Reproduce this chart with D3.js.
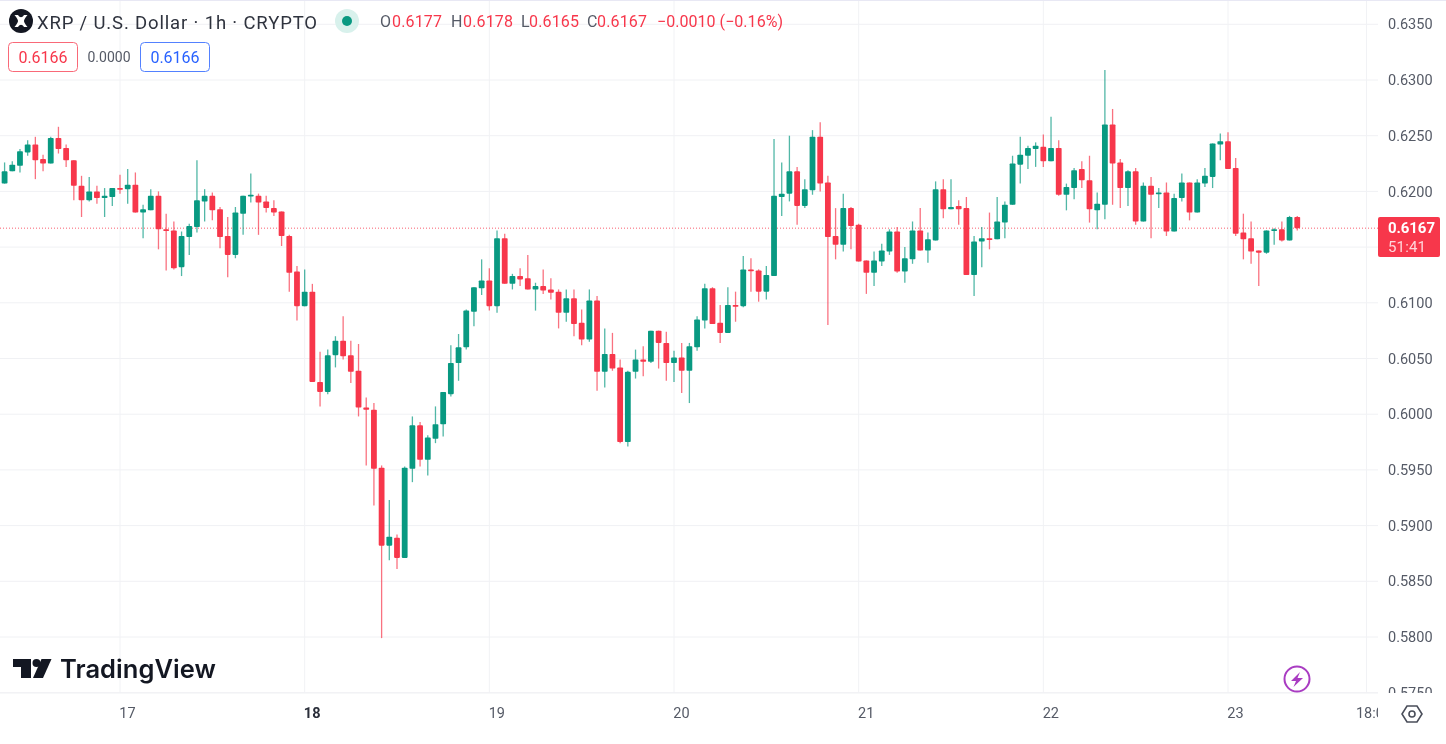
<!DOCTYPE html>
<html>
<head>
<meta charset="utf-8">
<style>
  html, body { margin: 0; padding: 0; background: #fff; overflow: hidden; }
  svg { display: block; font-family: Roboto, "Liberation Sans", sans-serif; filter: blur(0.5px); }
</style>
</head>
<body>
<svg id="chart"></svg>
<script src="https://cdn.jsdelivr.net/npm/d3@7/dist/d3.min.js"></script>
<script>
const width = 1446;
const height = 744;

// hourly candles, oldest first (first one is 16th 09:00)
const firstHour = -15;
const opens = [
  0.6207,0.6218,0.6223,0.6235,0.6242,0.6229,0.6225,0.6248,0.6239,0.6228,0.6205,0.6192,0.6200,0.6194,0.6195,
  0.6203,0.6202,0.6206,0.6181,0.6183,0.6196,0.6166,0.6165,0.6132,0.6159,0.6168,0.6191,0.6196,0.6184,0.6160,0.6143,0.6180,0.6196,0.6196,0.6191,0.6185,0.6182,0.6160,0.6128,0.6097,
  0.6110,0.6029,0.6020,0.6053,0.6066,0.6053,0.6039,0.6006,0.6004,0.5952,0.5882,0.5889,0.5871,0.5951,0.5990,0.5959,0.5978,0.5991,0.6018,0.6046,0.6060,0.6092,0.6113,0.6120,
  0.6097,0.6158,0.6117,0.6124,0.6122,0.6112,0.6115,0.6112,0.6110,0.6091,0.6104,0.6082,0.6067,0.6102,0.6038,0.6054,0.6042,0.5975,0.6038,0.6049,0.6047,0.6075,0.6064,0.6046,
  0.6051,0.6039,0.6060,0.6084,0.6113,0.6082,0.6073,0.6098,0.6097,0.6130,0.6129,0.6110,0.6124,0.6195,0.6198,0.6218,0.6187,0.6201,0.6249,0.6208,0.6160,0.6152,0.6185,0.6170,
  0.6138,0.6127,0.6137,0.6146,0.6164,0.6128,0.6139,0.6165,0.6147,0.6156,0.6202,0.6184,0.6187,0.6185,0.6125,0.6155,0.6158,0.6157,0.6172,0.6188,0.6224,0.6232,0.6238,
  0.6240,0.6227,0.6239,0.6197,0.6203,0.6220,0.6210,0.6183,0.6188,0.6260,0.6226,0.6203,0.6218,0.6173,0.6205,0.6198,0.6199,0.6164,0.6194,0.6208,0.6181,0.6207,0.6213,0.6242,
  0.6245,0.6221,0.6163,0.6158,0.6147,0.6145,0.6165,0.6166,0.6156,0.6177
];
const highs = [
  0.6226,0.6227,0.6238,0.6246,0.6249,0.6233,0.6249,0.6258,0.6242,0.6228,0.6214,0.6213,0.6205,0.6203,0.6203,
  0.6215,0.6220,0.6217,0.6188,0.6202,0.6200,0.6180,0.6173,0.6164,0.6171,0.6228,0.6202,0.6199,0.6186,0.6177,0.6186,0.6196,0.6216,0.6198,0.6196,0.6192,0.6182,0.6161,0.6133,0.6130,
  0.6117,0.6056,0.6058,0.6070,0.6088,0.6066,0.6063,0.6015,0.6010,0.5954,0.5923,0.5892,0.5953,0.5998,0.5993,0.5981,0.6007,0.6020,0.6062,0.6072,0.6094,0.6114,0.6139,0.6131,
  0.6165,0.6162,0.6126,0.6131,0.6143,0.6118,0.6130,0.6122,0.6112,0.6112,0.6112,0.6094,0.6112,0.6106,0.6077,0.6073,0.6049,0.6039,0.6058,0.6061,0.6075,0.6075,0.6074,0.6057,
  0.6064,0.6064,0.6088,0.6117,0.6114,0.6098,0.6114,0.6110,0.6142,0.6140,0.6130,0.6133,0.6247,0.6226,0.6250,0.6222,0.6211,0.6255,0.6262,0.6214,0.6185,0.6198,0.6186,0.6171,
  0.6138,0.6146,0.6153,0.6166,0.6168,0.6150,0.6173,0.6185,0.6163,0.6209,0.6211,0.6211,0.6192,0.6195,0.6160,0.6168,0.6181,0.6195,0.6191,0.6232,0.6249,0.6241,0.6244,
  0.6251,0.6267,0.6246,0.6207,0.6221,0.6227,0.6232,0.6199,0.6309,0.6274,0.6229,0.6219,0.6221,0.6208,0.6213,0.6203,0.6208,0.6198,0.6216,0.6208,0.6211,0.6221,0.6243,0.6252,
  0.6253,0.6230,0.6180,0.6173,0.6147,0.6165,0.6167,0.6173,0.6178,0.6178
];
const lows = [
  0.6207,0.6218,0.6217,0.6232,0.6211,0.6218,0.6225,0.6234,0.6222,0.6192,0.6177,0.6191,0.6189,0.6177,0.6187,
  0.6198,0.6189,0.6181,0.6158,0.6183,0.6148,0.6129,0.6130,0.6124,0.6143,0.6163,0.6173,0.6174,0.6149,0.6123,0.6140,0.6161,0.6190,0.6161,0.6181,0.6178,0.6151,0.6110,0.6084,0.6097,
  0.6029,0.6007,0.6018,0.6042,0.6049,0.6028,0.5998,0.5954,0.5918,0.5799,0.5869,0.5861,0.5871,0.5939,0.5953,0.5945,0.5974,0.5980,0.6016,0.6030,0.6058,0.6079,0.6107,0.6093,
  0.6091,0.6117,0.6112,0.6115,0.6112,0.6093,0.6108,0.6103,0.6077,0.6083,0.6070,0.6062,0.6065,0.6021,0.6024,0.6039,0.5974,0.5971,0.6032,0.6034,0.6046,0.6041,0.6030,0.6029,
  0.6019,0.6010,0.6057,0.6077,0.6081,0.6064,0.6073,0.6083,0.6096,0.6110,0.6101,0.6103,0.6124,0.6178,0.6191,0.6170,0.6185,0.6197,0.6200,0.6080,0.6139,0.6146,0.6148,0.6137,
  0.6108,0.6115,0.6133,0.6143,0.6127,0.6118,0.6135,0.6147,0.6136,0.6156,0.6176,0.6184,0.6170,0.6125,0.6106,0.6132,0.6148,0.6157,0.6158,0.6188,0.6207,0.6220,0.6222,
  0.6222,0.6227,0.6196,0.6183,0.6193,0.6203,0.6172,0.6166,0.6175,0.6188,0.6185,0.6187,0.6170,0.6173,0.6158,0.6185,0.6160,0.6164,0.6191,0.6174,0.6181,0.6204,0.6203,0.6228,
  0.6220,0.6160,0.6139,0.6135,0.6115,0.6144,0.6152,0.6155,0.6156,0.6165
];
const closes = [
  0.6218,0.6224,0.6236,0.6242,0.6228,0.6225,0.6248,0.6238,0.6228,0.6205,0.6192,0.6200,0.6194,0.6196,0.6203,
  0.6202,0.6206,0.6181,0.6184,0.6196,0.6166,0.6165,0.6131,0.6160,0.6169,0.6192,0.6196,0.6183,0.6159,0.6143,0.6181,0.6196,0.6197,0.6190,0.6185,0.6181,0.6160,0.6127,0.6097,0.6110,
  0.6029,0.6020,0.6053,0.6066,0.6052,0.6038,0.6006,0.6004,0.5951,0.5882,0.5890,0.5871,0.5952,0.5990,0.5959,0.5979,0.5991,0.6020,0.6046,0.6060,0.6093,0.6114,0.6120,0.6097,
  0.6158,0.6117,0.6124,0.6121,0.6112,0.6115,0.6111,0.6109,0.6091,0.6104,0.6081,0.6067,0.6102,0.6038,0.6054,0.6041,0.5975,0.6038,0.6049,0.6047,0.6075,0.6064,0.6046,0.6051,
  0.6039,0.6061,0.6085,0.6113,0.6081,0.6073,0.6098,0.6097,0.6130,0.6129,0.6110,0.6125,0.6196,0.6198,0.6218,0.6187,0.6202,0.6249,0.6207,0.6159,0.6152,0.6185,0.6169,0.6137,
  0.6127,0.6138,0.6147,0.6164,0.6128,0.6140,0.6165,0.6147,0.6157,0.6202,0.6184,0.6186,0.6184,0.6125,0.6155,0.6158,0.6157,0.6173,0.6188,0.6225,0.6233,0.6239,0.6241,
  0.6227,0.6239,0.6197,0.6204,0.6219,0.6210,0.6184,0.6189,0.6260,0.6225,0.6203,0.6218,0.6173,0.6205,0.6197,0.6199,0.6164,0.6194,0.6208,0.6181,0.6208,0.6214,0.6243,0.6245,
  0.6220,0.6162,0.6157,0.6146,0.6145,0.6165,0.6166,0.6156,0.6177,0.6167
];

const priceTicks = [0.635,0.63,0.625,0.62,0.615,0.61,0.605,0.6,0.595,0.59,0.585,0.58,0.575];
const hiddenTick = 0.615; // sits behind the last price tag
const dayTicks = [0,24,48,72,96,120,144,162];
const dayLabels = ["17","18","19","20","21","22","23","18:00"];
const lastPrice = 0.6167;

const paneRight = 1378;
const paneBottom = 693;
const upColor = "#089981";
const downColor = "#f7374b";

const x = d3.scaleLinear().domain([0, 144]).range([120, 1228]);
const y = d3.scaleLinear().domain([0.58, 0.635]).range([637, 24.3]);

const svg = d3.select("#chart").attr("width", width).attr("height", height);

const defs = svg.append("defs");
defs.append("clipPath").attr("id", "pane").append("rect")
    .attr("width", paneRight).attr("height", paneBottom);
defs.append("clipPath").attr("id", "priceClip").append("rect")
    .attr("width", width - paneRight).attr("height", paneBottom);
defs.append("clipPath").attr("id", "timeClip").append("rect")
    .attr("width", paneRight).attr("height", height - paneBottom);

// grid
const grid = svg.append("g").attr("clip-path", "url(#pane)");
grid.selectAll("line.h").data(priceTicks).join("line")
    .attr("class", "h")
    .attr("x1", 0).attr("x2", paneRight)
    .attr("y1", d => y(d)).attr("y2", d => y(d))
    .attr("stroke", "#f0f1f4");
grid.selectAll("line.v").data(dayTicks).join("line")
    .attr("class", "v")
    .attr("x1", d => x(d)).attr("x2", d => x(d))
    .attr("y1", 0).attr("y2", paneBottom)
    .attr("stroke", "#f1f2f5");
svg.append("line").attr("x1", 0).attr("x2", width).attr("y1", 0.5).attr("y2", 0.5).attr("stroke", "#e8e8f4");
svg.append("line").attr("x1", 0).attr("x2", paneRight).attr("y1", paneBottom).attr("y2", paneBottom).attr("stroke", "#f0f1f4");

// last price line
svg.append("line")
    .attr("x1", 0).attr("x2", paneRight)
    .attr("y1", y(lastPrice)).attr("y2", y(lastPrice))
    .attr("stroke", downColor).attr("stroke-width", 1)
    .attr("stroke-dasharray", "1 2").attr("opacity", 0.8);

// candles
const candles = opens.map((o, i) => ({ hour: firstHour + i, o, h: highs[i], l: lows[i], c: closes[i] }));
const colorOf = d => d.c >= d.o ? upColor : downColor;
const bodyW = 5.8;

const plot = svg.append("g").attr("clip-path", "url(#pane)");
plot.selectAll("line.wick").data(candles).join("line")
    .attr("class", "wick")
    .attr("x1", d => x(d.hour)).attr("x2", d => x(d.hour))
    .attr("y1", d => y(d.h)).attr("y2", d => y(d.l))
    .attr("stroke", colorOf).attr("stroke-width", 1.3).attr("opacity", 0.7);
plot.selectAll("rect.body").data(candles).join("rect")
    .attr("class", "body")
    .attr("x", d => x(d.hour) - bodyW / 2)
    .attr("width", bodyW)
    .attr("y", d => y(Math.max(d.o, d.c)))
    .attr("height", d => Math.max(1.8, Math.abs(y(d.o) - y(d.c))))
    .attr("rx", 0.8)
    .attr("fill", colorOf);

// price axis
const priceAxis = svg.append("g")
    .attr("transform", `translate(${paneRight},0)`)
    .attr("clip-path", "url(#priceClip)")
    .call(d3.axisRight(y).tickValues(priceTicks.filter(d => d !== hiddenTick))
      .tickFormat(d3.format(".4f")).tickSize(0).tickPadding(10));
priceAxis.select(".domain").remove();
priceAxis.selectAll("text").attr("font-size", 14.5).attr("font-family", "Roboto").attr("fill", "#555a66");

// time axis, labels sit a little right of their grid line as in the screenshot
const timeAxis = svg.append("g")
    .attr("transform", `translate(0,${paneBottom})`)
    .attr("clip-path", "url(#timeClip)")
    .call(d3.axisBottom(x).tickValues(dayTicks).tickFormat((d, i) => dayLabels[i]).tickSize(0).tickPadding(15));
timeAxis.select(".domain").remove();
timeAxis.selectAll("text")
    .attr("dx", 7)
    .attr("font-size", 14.5).attr("font-family", "Roboto")
    .attr("font-weight", (d, i) => dayLabels[i] === "18" ? 700 : 400)
    .attr("fill", (d, i) => dayLabels[i] === "18" ? "#2a2e39" : "#555a66");

// last price tag
svg.append("rect").attr("x", paneRight).attr("y", 217).attr("width", 62).attr("height", 40).attr("rx", 2).attr("fill", downColor);
svg.append("text").attr("x", 1388).attr("y", 233)
    .attr("font-size", 15).attr("font-weight", 700).attr("fill", "#fff").attr("textLength", 47)
    .text(d3.format(".4f")(lastPrice));
svg.append("text").attr("x", 1388).attr("y", 252)
    .attr("font-size", 15).attr("fill", "#ffd5da").attr("textLength", 38).text("51:41");

// header
const header = svg.append("g");
header.append("circle").attr("cx", 21).attr("cy", 21).attr("r", 12).attr("fill", "#131722");
header.append("path").attr("d", "M14.5 15 L18 15 C20 18 22 18 24 15 L27.5 15 C25 18 24 20 24 21 C24 22 25 24 27.5 27 L24 27 C22 24 20 24 18 27 L14.5 27 C17 24 18 22 18 21 C18 20 17 18 14.5 15 Z")
    .attr("fill", "#fff");
header.append("text").attr("x", 37).attr("y", 29)
    .attr("font-size", 18.5).attr("fill", "#2f333e").attr("textLength", 280)
    .text("XRP / U.S. Dollar \u00b7 1h \u00b7 CRYPTO");
header.append("circle").attr("cx", 347).attr("cy", 21).attr("r", 12).attr("fill", "#d8f1ec");
header.append("circle").attr("cx", 347).attr("cy", 21).attr("r", 5).attr("fill", upColor);

const ohlcNames = ["O", "H", "L", "C"];
const ohlcNameX = [380, 451, 521, 587];
const ohlcValues = ["0.6177", "0.6178", "0.6165", "0.6167"];
const ohlcValueX = [392, 463, 529, 597];
header.selectAll("text.name").data(ohlcNames).join("text")
    .attr("class", "name")
    .attr("x", (d, i) => ohlcNameX[i]).attr("y", 27)
    .attr("font-size", 16).attr("fill", "#555a66").text(d => d);
header.selectAll("text.val").data(ohlcValues).join("text")
    .attr("class", "val")
    .attr("x", (d, i) => ohlcValueX[i]).attr("y", 27)
    .attr("font-size", 16).attr("fill", downColor).attr("textLength", 50).text(d => d);
header.append("text").attr("x", 657).attr("y", 27).attr("font-size", 16).attr("fill", downColor)
    .attr("textLength", 126).text("\u22120.0010 (\u22120.16%)");

// bid / ask boxes
header.append("rect").attr("x", 8.5).attr("y", 42.5).attr("width", 69).attr("height", 29).attr("rx", 4)
    .attr("fill", "#fff").attr("stroke", downColor).attr("opacity", 0.75);
header.append("text").attr("x", 43).attr("y", 63).attr("text-anchor", "middle").attr("font-size", 16).attr("fill", downColor).text("0.6166");
header.append("text").attr("x", 109).attr("y", 62).attr("text-anchor", "middle").attr("font-size", 14).attr("fill", "#555a66").text("0.0000");
header.append("rect").attr("x", 140.5).attr("y", 42.5).attr("width", 69).attr("height", 29).attr("rx", 4)
    .attr("fill", "#fff").attr("stroke", "#2962ff").attr("opacity", 0.8);
header.append("text").attr("x", 175).attr("y", 63).attr("text-anchor", "middle").attr("font-size", 16).attr("fill", "#2962ff").text("0.6166");

// TradingView mark
const logo = svg.append("g").attr("fill", "#131722");
logo.append("path").attr("d", "M13 659 H31 V678 H21 V667 H13 Z");
logo.append("circle").attr("cx", 36.5).attr("cy", 663).attr("r", 4);
logo.append("path").attr("d", "M41.5 659 H51.5 L43 678 H33 Z");
logo.append("text").attr("x", 60).attr("y", 678)
    .attr("font-family", "Inter").attr("font-size", 25.5).attr("font-weight", 600)
    .attr("textLength", 156).text("TradingView");

// lightning badge
svg.append("circle").attr("cx", 1297).attr("cy", 679).attr("r", 12.5)
    .attr("fill", "#fff").attr("stroke", "#a93cc2").attr("stroke-width", 2);
svg.append("path").attr("d", "M1300 672 L1291 681 L1296 681 L1293.5 687 L1303 678 L1297.5 678 Z").attr("fill", "#a93cc2");

// settings hexagon
svg.append("path").attr("d", "M1407 706 H1417 L1422 714 L1417 722 H1407 L1402 714 Z")
    .attr("fill", "none").attr("stroke", "#4a4e5a").attr("stroke-width", 1.6);
svg.append("circle").attr("cx", 1412).attr("cy", 714).attr("r", 3)
    .attr("fill", "none").attr("stroke", "#4a4e5a").attr("stroke-width", 1.6);
</script>
</body>
</html>
